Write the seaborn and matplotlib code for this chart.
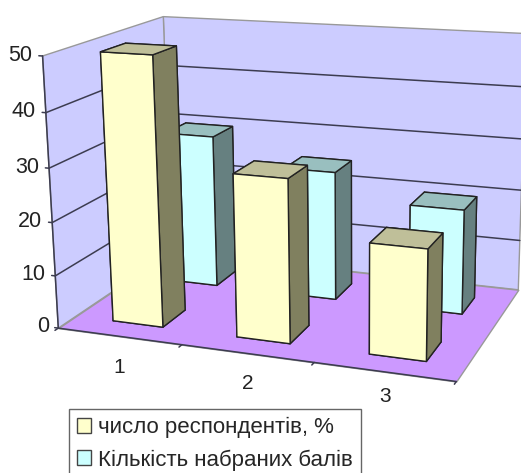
import matplotlib
matplotlib.use('Agg')
import matplotlib.pyplot as plt
from matplotlib.patches import Patch
from mpl_toolkits.mplot3d.art3d import Poly3DCollection
import seaborn as sns

categories = ['1', '2', '3']
series_names = ['число респондентів, %', 'Кількість набраних балів']
respondents = [50, 30, 20]
scores = [30, 25, 20]
z_ticks = [0, 10, 20, 30, 40, 50]

sns.set_style('white')
plt.rcParams['font.family'] = ['Liberation Sans', 'DejaVu Sans']

# front, top and side colours of each series
yellow = ['#ffffcc', '#bfbf99', '#80805f']
cyan = ['#ccffff', '#99bfbf', '#668080']
wall_color = '#ccccff'
floor_color = '#cc99ff'
line_color = '#3c3c50'
text_color = '#222222'

W, H = 521, 473
S = 537.22
fig = plt.figure(figsize=(W / 100, H / 100), dpi=100)
ax = fig.add_axes([18.31 / W, 17.5 / H, S / W, S / H], projection='3d', computed_zorder=False)
ax.set_axis_off()
ax.patch.set_alpha(0)
ax.set_xlim(0, 3, view_margin=0)
ax.set_ylim(0, 1, view_margin=0)
ax.set_zlim(0, 50, view_margin=0)
ax.view_init(elev=14.999, azim=-69.016, roll=0.677)
ax.set_proj_type('persp', focal_length=0.491)
ax.set_box_aspect((1, 0.641, 0.674))

# walls and floor
walls = [[(0, 0, 0), (0, 1, 0), (0, 1, 50), (0, 0, 50)],
         [(0, 1, 0), (3, 1, 0), (3, 1, 50), (0, 1, 50)]]
ax.add_collection3d(Poly3DCollection(walls, facecolor=wall_color, edgecolor='#999999', linewidth=1, zorder=1))
floor = [[(0, 0, 0), (3, 0, 0), (3, 1, 0), (0, 1, 0)]]
ax.add_collection3d(Poly3DCollection(floor, facecolor=floor_color, edgecolor='#999999', linewidth=1, zorder=1))

# gridlines
for z in z_ticks[1:-1]:
    ax.plot([0, 0, 3], [0, 1, 1], [z, z, z], color=line_color, lw=1.1, zorder=2)

# front edge and left edge with ticks
ax.plot([0, 3], [0, 0], [0, 0], color=line_color, lw=1.1, zorder=2)
ax.plot([0, 0], [0, 0], [0, 50], color=line_color, lw=1.1, zorder=2)
for z in z_ticks:
    ax.plot([-0.03, 0], [0, 0], [z, z], color=line_color, lw=1.1, zorder=2)
    ax.text(-0.08, 0, z, str(z), fontsize=15.5, ha='right', va='center', color=text_color, zorder=10)
for i in range(4):
    ax.plot([i, i], [0, -0.025], [0, 0], color=line_color, lw=1.1, zorder=2)

# the labels sit further out than the perspective would put them
label_x = [0.77, 1.71, 2.63]
label_y = [-0.27, -0.25, -0.2]
for c, lx, ly in zip(categories, label_x, label_y):
    ax.text(lx, ly, 0, c, fontsize=15, ha='center', va='center', color=text_color, zorder=10)


def draw_bars(values, colors, y0, zorder):
    for i, v in enumerate(values):
        # bottom, top, front, back, left, right
        faces = [colors[0], colors[1], colors[0], colors[0], colors[0], colors[2]]
        ax.bar3d(i + 0.31, y0, 0, 0.41, 0.2, v, color=faces, shade=False, edgecolor=text_color,
                 linewidth=1, zorder=zorder + i)


draw_bars(scores, cyan, 0.65, 3)
draw_bars(respondents, yellow, 0.14, 6)

handles = [Patch(facecolor=yellow[0], edgecolor='#444444', label=series_names[0]),
           Patch(facecolor=cyan[0], edgecolor='#444444', label=series_names[1])]
leg = fig.legend(handles=handles, loc='upper left', bbox_to_anchor=(69 / W, 1 - 409 / H), borderaxespad=0,
                 fontsize=16, frameon=True, fancybox=False, edgecolor='#666666', framealpha=1,
                 handlelength=0.63, handleheight=0.63, handletextpad=0.32, borderpad=0.36, labelspacing=0.5)
leg.set_zorder(20)

fig.savefig('out.png', dpi=100)
